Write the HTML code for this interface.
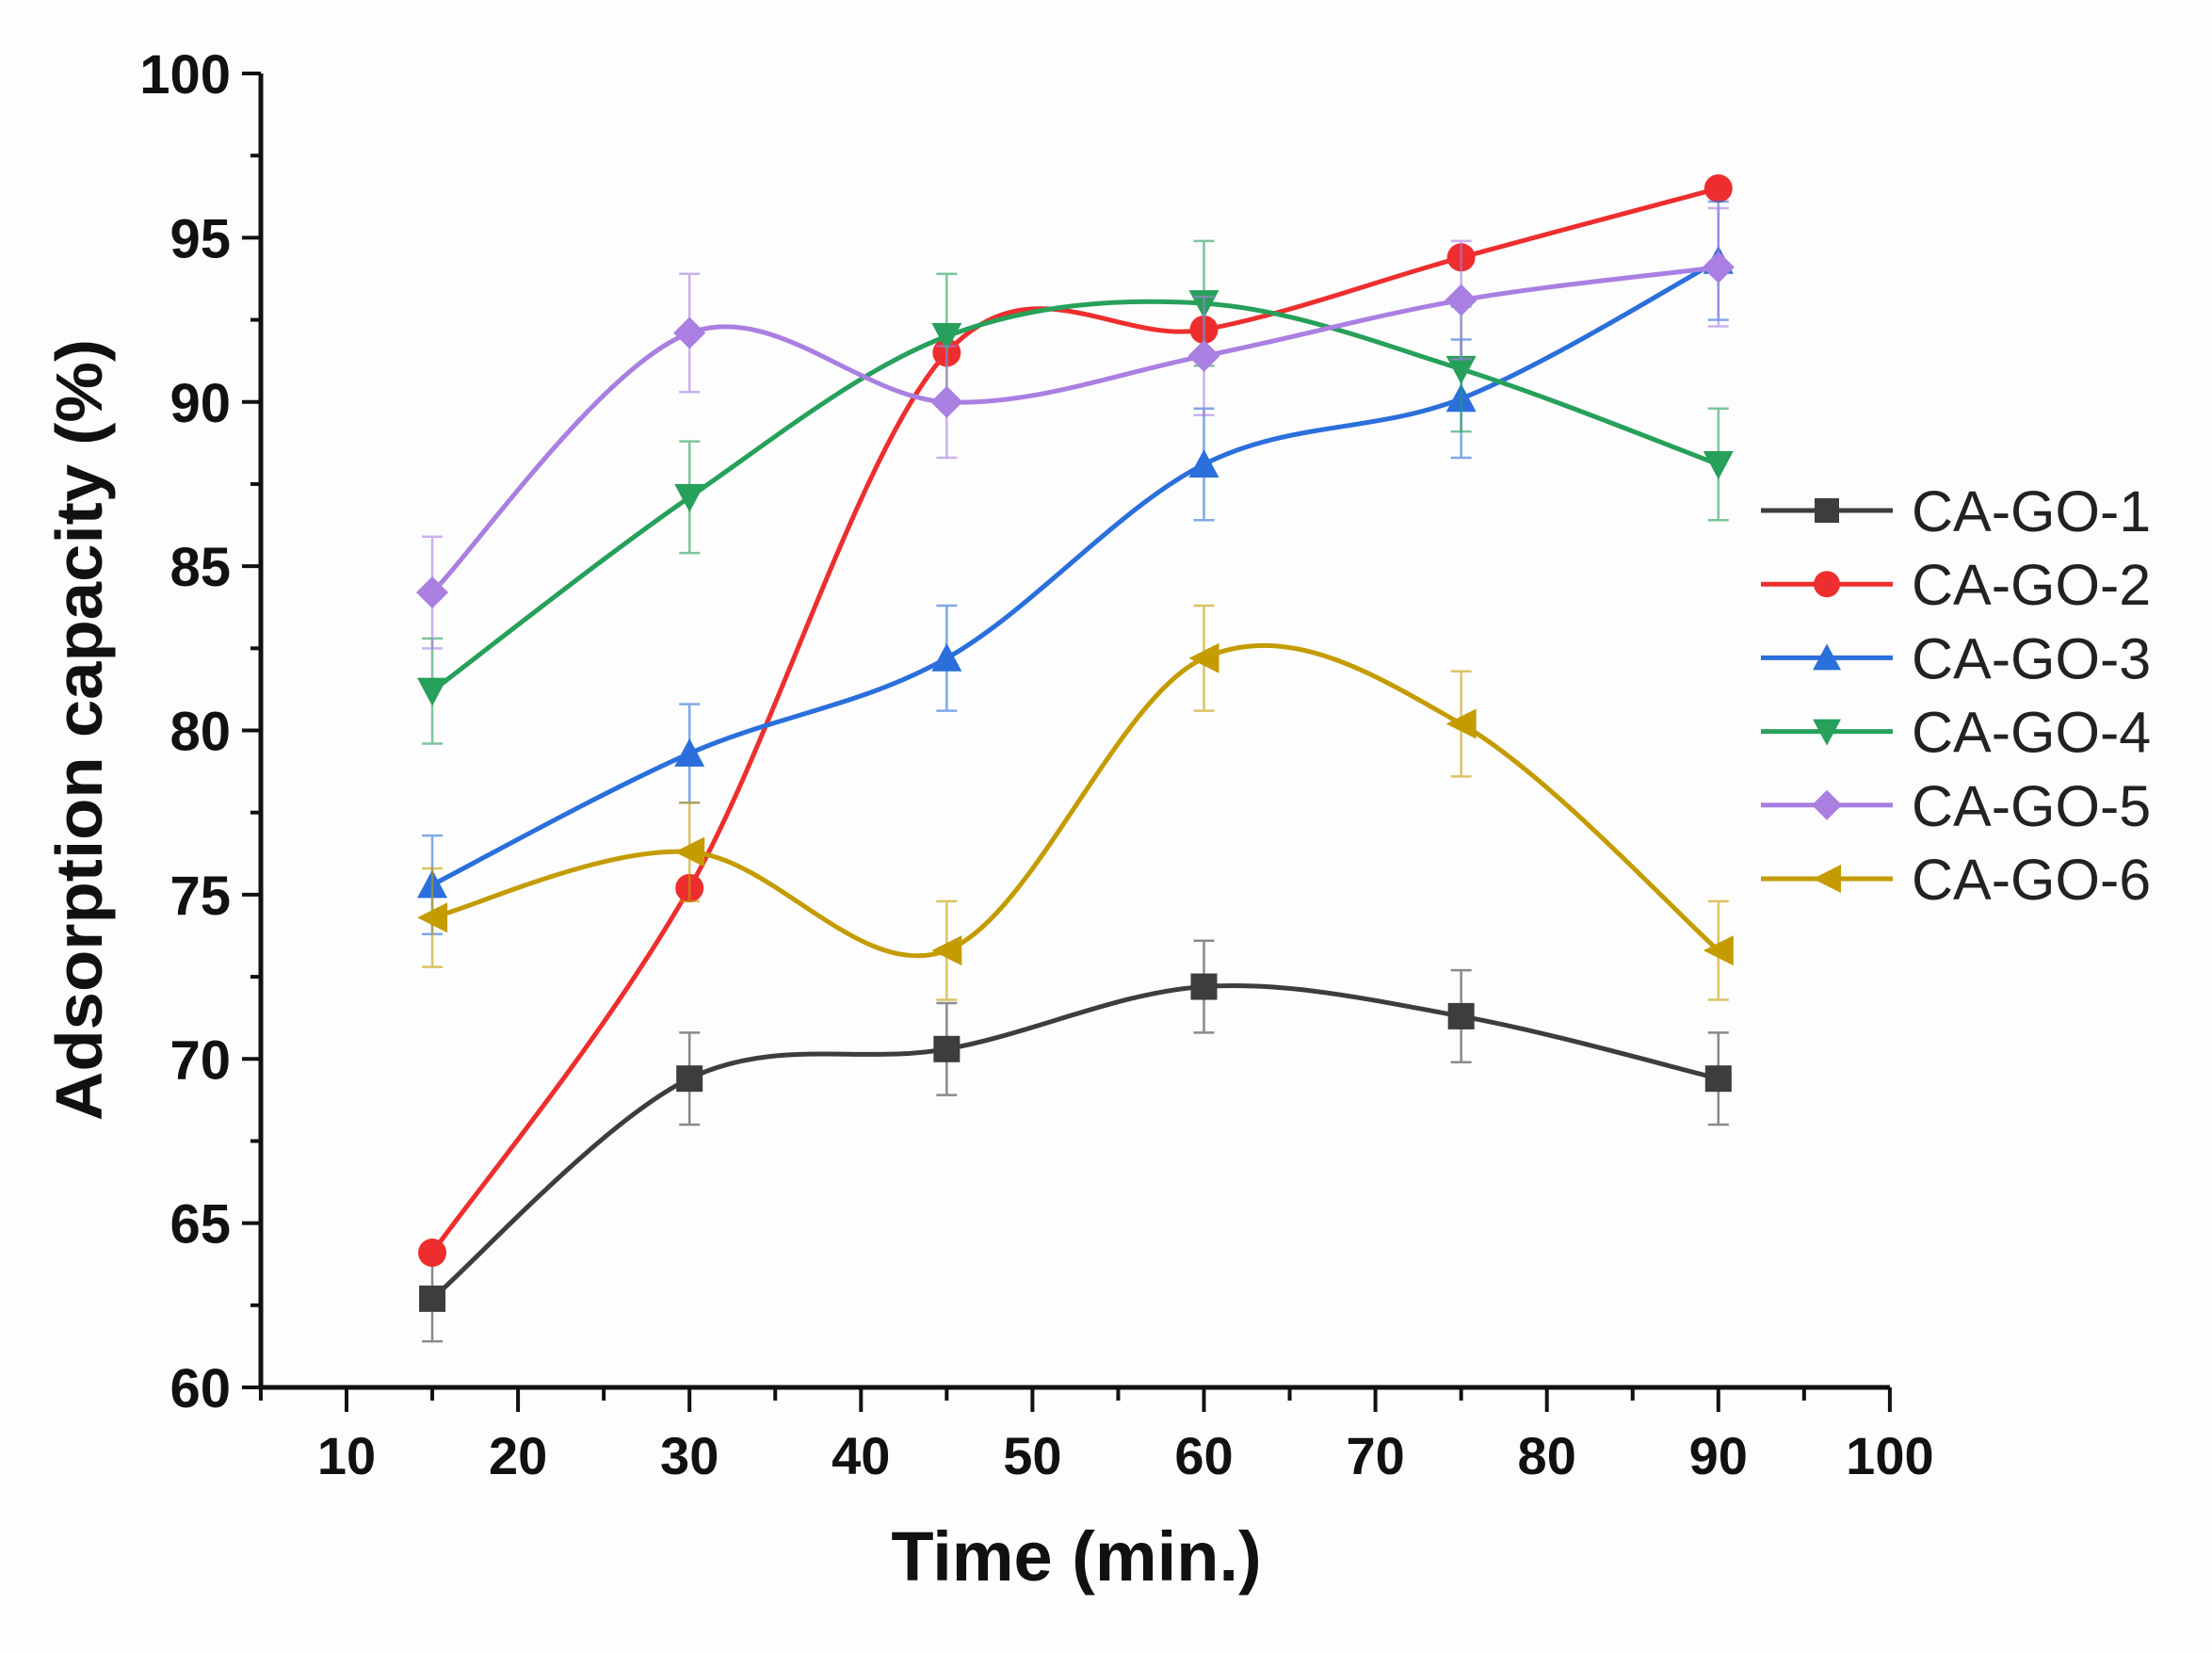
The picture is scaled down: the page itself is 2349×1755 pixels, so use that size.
<!DOCTYPE html>
<html><head><meta charset="utf-8"><style>
html,body{margin:0;padding:0;background:#fdfdfd;}
svg{display:block;}
text{font-family:"Liberation Sans",Arial,sans-serif;}
</style></head><body>
<svg id="s" width="2349" height="1755" viewBox="0 0 2349 1755" xmlns="http://www.w3.org/2000/svg">
<rect width="2349" height="1755" fill="#fdfdfd"/>
<g id="g"></g>
<text x="1143" y="1678" font-size="74" font-weight="bold" text-anchor="middle" fill="#111">Time (min.)</text>
<text transform="translate(108,775) rotate(-90)" font-size="70" font-weight="bold" text-anchor="middle" fill="#111" textLength="830" lengthAdjust="spacingAndGlyphs">Adsorption capacity (%)</text>
</svg>
<script>
var NS="http://www.w3.org/2000/svg",g=document.getElementById("g");
function X(t){return 368+(t-10)*18.21;}
function Y(v){return 78+(100-v)*34.875;}
function el(n,a,p){var e=document.createElementNS(NS,n);for(var k in a)e.setAttribute(k,a[k]);(p||g).appendChild(e);return e;}
el("path",{d:"M277 78 V1473 H2007",fill:"none",stroke:"#111","stroke-width":5});
for(var v=60;v<=100;v+=2.5){var maj=(v%5==0);el("line",{x1:277-(maj?20:11),x2:277,y1:Y(v),y2:Y(v),stroke:"#111","stroke-width":4});
 if(maj){var t=el("text",{x:245,y:Y(v)+21,"font-size":58,"font-weight":"bold","text-anchor":"end",fill:"#111"});t.textContent=v;}}
for(var t=5;t<=100;t+=5){var maj=(t%10==0);el("line",{x1:X(t),x2:X(t),y1:1473,y2:1473+(maj?26:14),stroke:"#111","stroke-width":4});
 if(maj){var tx=el("text",{x:X(t),y:1565,"font-size":56,"font-weight":"bold","text-anchor":"middle",fill:"#111"});tx.textContent=t;}}
var xs=[15,30,45,60,75,90];
var S=[
 ["CA-GO-1","#3d3d3d","sq",[62.7,69.4,70.3,72.2,71.3,69.4],[1.3,1.4,1.4,1.4,1.4,1.4]],
 ["CA-GO-2","#ee2e2e","ci",[64.1,75.2,91.5,92.2,94.4,96.5],[0,0,0,0,0,0]],
 ["CA-GO-3","#2a6fdc","up",[75.3,79.3,82.2,88.1,90.1,94.3],[1.5,1.5,1.6,1.7,1.8,1.8]],
 ["CA-GO-4","#26a05a","dn",[81.2,87.1,92.0,93.0,91.0,88.1],[1.6,1.7,1.9,1.9,1.9,1.7]],
 ["CA-GO-5","#a97fe2","di",[84.2,92.1,90.0,91.4,93.1,94.1],[1.7,1.8,1.7,1.8,1.8,1.8]],
 ["CA-GO-6","#c49c00","lt",[74.3,76.3,73.3,82.2,80.2,73.3],[1.5,1.5,1.5,1.6,1.6,1.5]]
];
function marker(type,cx,cy,c,r){
 r=r||14;
 if(type=="sq")el("rect",{x:cx-r,y:cy-r,width:2*r,height:2*r,fill:c});
 else if(type=="ci")el("circle",{cx:cx,cy:cy,r:r+1,fill:c});
 else if(type=="up")el("path",{d:"M"+cx+" "+(cy-r-2)+"L"+(cx+r+2)+" "+(cy+r)+"L"+(cx-r-2)+" "+(cy+r)+"Z",fill:c});
 else if(type=="dn")el("path",{d:"M"+cx+" "+(cy+r+2)+"L"+(cx+r+2)+" "+(cy-r)+"L"+(cx-r-2)+" "+(cy-r)+"Z",fill:c});
 else if(type=="di")el("path",{d:"M"+cx+" "+(cy-r-3)+"L"+(cx+r+3)+" "+cy+"L"+cx+" "+(cy+r+3)+"L"+(cx-r-3)+" "+cy+"Z",fill:c});
 else if(type=="lt")el("path",{d:"M"+(cx-r-2)+" "+cy+"L"+(cx+r+2)+" "+(cy-r-2)+"L"+(cx+r+2)+" "+(cy+r+2)+"Z",fill:c});
}
S.forEach(function(s,i){
 var P=xs.map(function(t,j){return [X(t),Y(s[3][j])];});
 P.forEach(function(p,j){var e=s[4][j]*34.875;if(!e)return;
  el("path",{d:"M"+p[0]+" "+(p[1]-e)+"V"+(p[1]+e)+"M"+(p[0]-11)+" "+(p[1]-e)+"H"+(p[0]+11)+"M"+(p[0]-11)+" "+(p[1]+e)+"H"+(p[0]+11),stroke:s[1],"stroke-width":2.5,fill:"none",opacity:0.6});});
 var d="M"+P[0][0]+" "+P[0][1];
 for(var k=0;k<P.length-1;k++){
  var p0=P[k-1]||P[k],p1=P[k],p2=P[k+1],p3=P[k+2]||P[k+1];
  var c1=[p1[0]+(p2[0]-p0[0])/6,p1[1]+(p2[1]-p0[1])/6],c2=[p2[0]-(p3[0]-p1[0])/6,p2[1]-(p3[1]-p1[1])/6];
  d+="C"+c1+" "+c2+" "+p2;
 }
 el("path",{d:d,fill:"none",stroke:s[1],"stroke-width":5});
 P.forEach(function(p){marker(s[2],p[0],p[1],s[1]);});
 var ly=542+i*78.2;
 el("line",{x1:1870,x2:2010,y1:ly,y2:ly,stroke:s[1],"stroke-width":5});
 marker(s[2],1940,ly,s[1],13);
 var t=el("text",{x:2030,y:ly+22,"font-size":61,fill:"#222"});t.textContent=s[0];
});
</script>
</body></html>
